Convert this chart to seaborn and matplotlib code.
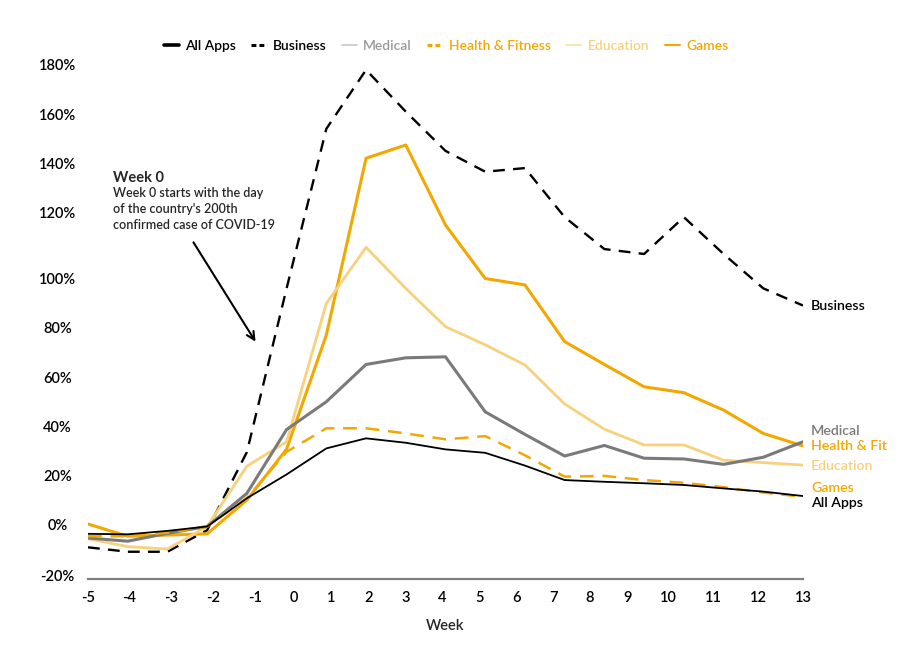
import matplotlib
matplotlib.use("Agg")
import matplotlib.pyplot as plt
from matplotlib.lines import Line2D
import seaborn as sns

# weekly growth in downloads vs. baseline, in %
weeks = list(range(-5, 14))
all_apps = [-4, -4.2, -2.8, -1, 10.5, 20.2, 30.8, 34.9, 33.1, 30.4, 29.0, 23.8, 17.9, 17.2, 16.6, 15.9, 14.5, 13.2, 11.4]
business = [-9.5, -11.3, -11.3, -2.5, 29.3, 96, 161, 185, 168, 152, 143.5, 145, 125, 112, 110, 125, 110, 96, 89]
medical = [-5.7, -7, -3.8, -1, 12.5, 38.5, 49.8, 65, 67.7, 68.1, 45.7, 36.5, 27.7, 32, 26.8, 26.5, 24.3, 27.2, 33.5]
health_fitness = [-5, -5, -3.5, -1, 10.6, 29.4, 39, 39, 36.9, 34.5, 35.8, 28, 19.3, 19.6, 17.9, 16.8, 15, 12.8, 11.1]
education = [-6, -9.2, -10.2, -1, 23.6, 33.5, 89.9, 112.7, 96, 80.4, 73, 64.8, 48.9, 38.6, 32.2, 32.2, 26, 25, 24]
games = [0, -5, -4.5, -4, 9.8, 30.5, 77, 149, 154.4, 121.8, 100, 97.4, 74.3, 65, 55.9, 53.5, 46.4, 36.9, 31.8]

y_labels = ["-20%", "0%", "20%", "40%", "60%", "80%", "100%", "120%", "140%", "160%", "180%"]
x_labels = [str(w) for w in weeks]

# tick placement in the original is uneven, keep it that way
y_tick_pos = [-20.8, 0, 19.8, 39.7, 59.8, 80.2, 100.2, 127, 147, 167, 187.3]
x_tick_pos = [-5.0, -3.97, -2.91, -1.85, -0.80, 0.19, 1.12, 2.06, 3.0, 3.92, 4.85,
              5.78, 6.71, 7.64, 8.58, 9.62, 10.74, 11.88, 13.0]

BLACK = "#000000"
GRAY = "#7a7a7a"
ORANGE = "#f2a800"
LIGHT = "#f8d17c"

sns.set_theme(style="white")
plt.rcParams["font.family"] = ["Lato", "DejaVu Sans"]

fig = plt.figure(figsize=(9.14, 6.5), dpi=100)
ax = fig.add_axes([88 / 914, 1 - 579 / 650, (803 - 88) / 914, (579 - 57.6) / 650])

sns.lineplot(x=weeks, y=business, ax=ax, color=BLACK, lw=1.7)
ax.lines[-1].set_dashes([5, 3.5])
sns.lineplot(x=weeks, y=games, ax=ax, color=ORANGE, lw=2.2)
sns.lineplot(x=weeks, y=education, ax=ax, color=LIGHT, lw=2.0)
sns.lineplot(x=weeks, y=medical, ax=ax, color=GRAY, lw=2.2)
sns.lineplot(x=weeks, y=health_fitness, ax=ax, color=ORANGE, lw=1.8)
ax.lines[-1].set_dashes([5.5, 3.5])
sns.lineplot(x=weeks, y=all_apps, ax=ax, color=BLACK, lw=1.3)

ax.set_xlim(-5, 13)
ax.set_ylim(-22.4, 190)
ax.set_xticks(x_tick_pos)
ax.set_xticklabels(x_labels)
ax.set_yticks(y_tick_pos)
ax.set_yticklabels(y_labels)
ax.tick_params(axis="both", length=0, labelsize=10.5, colors=BLACK)
ax.tick_params(axis="y", pad=22)
ax.tick_params(axis="x", pad=9)
for lab in ax.get_yticklabels():
    lab.set_ha("center")
for lab in ax.get_xticklabels() + ax.get_yticklabels():
    lab.set_fontweight("semibold")
ax.set_xlabel("Week", fontsize=10.5, fontweight="semibold", labelpad=10)
ax.set_ylabel("")

sns.despine(ax=ax, left=True)
ax.spines["bottom"].set_color("#808080")
ax.spines["bottom"].set_linewidth(1.6)

# legend along the top, handles drawn like the original key
order = ["All Apps", "Business", "Medical", "Health & Fitness", "Education", "Games"]
handles = [
    Line2D([], [], color=BLACK, lw=2.6),
    Line2D([], [], color=BLACK, lw=2.2, dashes=[1.6, 1.0]),
    Line2D([], [], color="#c8c8c8", lw=1.2),
    Line2D([], [], color=ORANGE, lw=2.2, dashes=[1.6, 1.0]),
    Line2D([], [], color="#fbe0a0", lw=1.2),
    Line2D([], [], color=ORANGE, lw=1.5),
]
text_colors = [BLACK, BLACK, "#9a9a9a", ORANGE, LIGHT, ORANGE]
leg = fig.legend(handles, order, loc="center", ncol=6,
                 bbox_to_anchor=(446 / 914, 1 - 46 / 650), frameon=False,
                 handlelength=1.1, handletextpad=0.45, columnspacing=1.1,
                 prop={"size": 10, "weight": "semibold"})
for txt, c in zip(leg.get_texts(), text_colors):
    txt.set_color(c)

# labels at the right end of the lines
end_labels = [("Business", 306, BLACK), ("Medical", 431, GRAY), ("Health & Fit", 446, ORANGE),
              ("Education", 466, LIGHT), ("Games", 488, ORANGE), ("All Apps", 503, BLACK)]
for name, py, c in end_labels:
    fig.text(811 / 914, 1 - py / 650, name, color=c, fontsize=10.2, fontweight="semibold",
             ha="left", va="center")

# annotation
fig.text(113 / 914, 1 - 178 / 650, "Week 0", fontsize=10.5, fontweight="bold", va="center")
fig.text(113 / 914, 1 - 187 / 650,
         "Week 0 starts with the day\nof the country's 200th\nconfirmed case of COVID-19",
         fontsize=9, fontweight="semibold", va="top", linespacing=1.4)
ax.annotate("", xy=(257 / 914, 1 - 344 / 650), xycoords="figure fraction",
            xytext=(192 / 914, 1 - 240 / 650), textcoords="figure fraction",
            arrowprops=dict(arrowstyle="->", color=BLACK, lw=1.5, mutation_scale=14))

fig.savefig("out.png", dpi=100, facecolor="white")
